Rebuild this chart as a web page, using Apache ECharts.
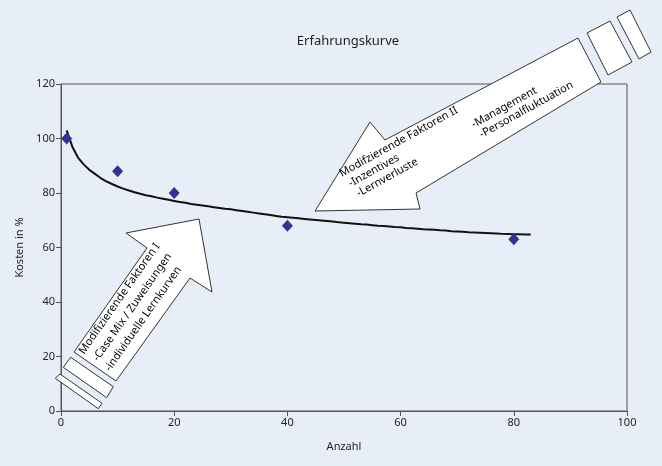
<!DOCTYPE html>
<html><head><meta charset="utf-8">
<script src="https://cdn.jsdelivr.net/npm/echarts@6/dist/echarts.min.js"></script>
<style>html,body{margin:0;padding:0;background:#e7eef8}#c{width:662px;height:466px}</style>
</head><body><div id="c"></div>
<script>
// ---- data ----
const chartTitle = 'Erfahrungskurve';
const xName = 'Anzahl';
const yName = 'Kosten in %';
const pointX = [1, 10, 20, 40, 80];
const pointY = [100, 88, 80, 68, 63];
const curveX = [1,2,3,4,5,6,7,8,9,10,11,12,13,14,15,16,17,18,19,20,21,22,23,24,25,26,27,28,29,30,
  31,32,33,34,35,36,37,38,39,40,41,42,43,44,45,46,47,48,49,50,51,52,53,54,55,56,57,58,59,60,
  61,62,63,64,65,66,67,68,69,70,71,72,73,74,75,76,77,78,79,80,81,82,83];
const curveY = [103,97,93,90.5,88.5,87,85.5,84.3,83.3,82.4,81.6,80.9,80.3,79.7,79.2,78.8,78.3,77.9,77.5,77.1,
  76.7,76.4,76.0,75.7,75.4,75.1,74.8,74.5,74.2,74.0,73.7,73.4,73.1,72.8,72.5,72.2,71.9,71.6,71.3,71.1,
  70.9,70.7,70.5,70.3,70.1,69.9,69.7,69.5,69.3,69.1,68.9,68.7,68.5,68.4,68.2,68.0,67.9,67.7,67.5,67.4,
  67.2,67.1,66.9,66.7,66.6,66.5,66.3,66.2,66.0,65.9,65.8,65.6,65.5,65.4,65.3,65.2,65.1,65.0,64.95,64.9,
  64.85,64.8,64.8];
const xTicks = {min: 0, max: 100, interval: 20};
const yTicks = {min: 0, max: 120, interval: 20};
const arrow1Lines = ['Modifizierende Faktoren I', '-Case Mix / Zuweisungen', '-individuelle Lernkurven'];
const arrow2Lines = ['Modifzierende Faktoren II', '-Inzentives', '-Lernverluste', '-Management', '-Personalfluktuation'];

// ---- chart ----
const FONT = "'Noto Sans', sans-serif";
const chart = echarts.init(document.getElementById('c'), null, {renderer: 'canvas'});
const boxStyle = {fill: '#ffffff', stroke: '#333333', lineWidth: 1};
function poly(pts) { return {type: 'polygon', shape: {points: pts}, style: boxStyle, z: 100}; }
function txt(s, x, y, deg) {
  return {type: 'text', x: x, y: y, rotation: deg * Math.PI / 180, z: 101,
    style: {text: s, fill: '#000', font: '11px ' + FONT, textAlign: 'left', textVerticalAlign: 'bottom', align: 'left', verticalAlign: 'bottom'}};
}
const a1 = 55, a2 = 29;
const graphics = [
  poly([[74,352],[147,248],[126,233],[199,219],[212,292],[190,278],[116,381]]),
  poly([[70.7,357.3],[113.3,386.7],[106.7,397.7],[63.3,367.3]]),
  poly([[60,374],[102,403.3],[98.3,408.7],[55.3,378.3]]),
  txt(arrow1Lines[0], 86, 356, a1),
  txt(arrow1Lines[1], 100, 363, a1),
  txt(arrow1Lines[2], 112, 373, a1),
  poly([[578,38],[385,140],[370,122],[315,211],[420,209],[416,193],[601,82]]),
  poly([[587,33],[610,21],[632,62],[608,75]]),
  poly([[617,17],[630,10],[651,52],[639,59]]),
  txt(arrow2Lines[0], 343, 179, a2),
  txt(arrow2Lines[1], 352, 189, a2),
  txt(arrow2Lines[2], 360, 199, a2),
  txt(arrow2Lines[3], 475, 130, a2),
  txt(arrow2Lines[4], 483, 140, a2)
];

chart.setOption({
  backgroundColor: '#e7eef8',
  animation: false,
  title: {text: chartTitle, left: 343, top: 30, textAlign: 'center',
    textStyle: {fontFamily: FONT, fontSize: 13, fontWeight: 'normal', color: '#222'}},
  grid: {left: 61, right: 35, top: 84, bottom: 55, show: true, borderColor: '#555', borderWidth: 1, backgroundColor: 'transparent'},
  xAxis: {type: 'value', min: xTicks.min, max: xTicks.max, interval: xTicks.interval,
    name: xName, nameLocation: 'middle', nameGap: 30,
    nameTextStyle: {fontFamily: FONT, fontSize: 11, color: '#222'},
    axisLine: {show: true, lineStyle: {color: '#555'}},
    axisTick: {show: true, inside: false, length: 5, lineStyle: {color: '#555'}},
    axisLabel: {fontFamily: FONT, fontSize: 11, color: '#222', margin: 6},
    splitLine: {show: false}},
  yAxis: {type: 'value', min: yTicks.min, max: yTicks.max, interval: yTicks.interval,
    name: yName, nameLocation: 'middle', nameGap: 36, nameRotate: 90,
    nameTextStyle: {fontFamily: FONT, fontSize: 11, color: '#222'},
    axisLine: {show: true, lineStyle: {color: '#555'}},
    axisTick: {show: true, inside: false, length: 5, lineStyle: {color: '#555'}},
    axisLabel: {fontFamily: FONT, fontSize: 11, color: '#222', margin: 6},
    splitLine: {show: false}},
  series: [
    {type: 'line', data: curveX.map((x, i) => [x, curveY[i]]), showSymbol: false, symbol: 'none',
      lineStyle: {color: '#111', width: 2}, z: 3},
    {type: 'scatter', data: pointX.map((x, i) => [x, pointY[i]]), symbol: 'diamond', symbolSize: [11, 12],
      itemStyle: {color: '#33309a', opacity: 1}, z: 4}
  ],
  graphic: graphics
});
</script></body></html>
